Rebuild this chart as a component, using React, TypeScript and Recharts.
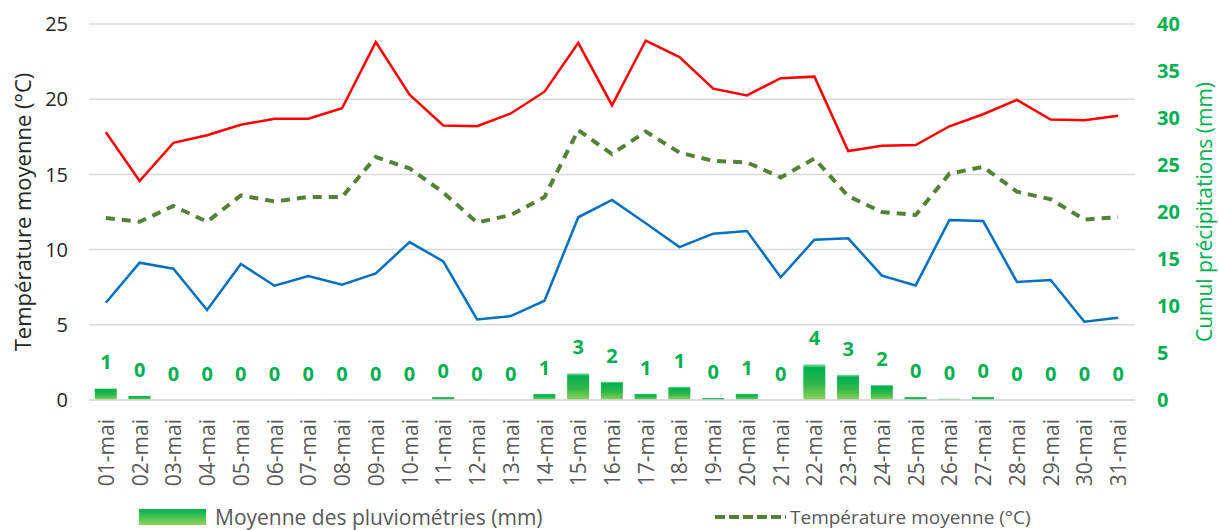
import React from 'react';
import { ComposedChart, Bar, Line, XAxis, YAxis, CartesianGrid, LabelList } from 'recharts';

const days = [
  '01-mai', '02-mai', '03-mai', '04-mai', '05-mai', '06-mai', '07-mai', '08-mai', '09-mai', '10-mai',
  '11-mai', '12-mai', '13-mai', '14-mai', '15-mai', '16-mai', '17-mai', '18-mai', '19-mai', '20-mai',
  '21-mai', '22-mai', '23-mai', '24-mai', '25-mai', '26-mai', '27-mai', '28-mai', '29-mai', '30-mai', '31-mai',
];

const rain = [
  1.24, 0.43, 0, 0, 0, 0, 0.05, 0.05, 0, 0,
  0.3, 0.05, 0, 0.64, 2.84, 1.95, 0.64, 1.4, 0.2, 0.64,
  0, 3.8, 2.7, 1.6, 0.3, 0.15, 0.3, 0, 0, 0, 0,
];

const tMax = [
  17.8, 14.56, 17.1, 17.6, 18.3, 18.7, 18.7, 19.4, 23.8, 20.3,
  18.25, 18.2, 19.05, 20.5, 23.75, 19.6, 23.9, 22.8, 20.7, 20.25,
  21.4, 21.5, 16.55, 16.9, 16.95, 18.2, 19.0, 19.95, 18.65, 18.6, 18.9,
];

const tMean = [
  12.1, 11.85, 12.9, 11.85, 13.6, 13.2, 13.5, 13.5, 16.15, 15.4,
  13.8, 11.8, 12.3, 13.5, 17.95, 16.35, 17.85, 16.45, 15.9, 15.8,
  14.8, 16.05, 13.55, 12.5, 12.3, 15.05, 15.5, 13.85, 13.35, 12.0, 12.15,
];

const tMin = [
  6.47, 9.13, 8.73, 5.98, 9.04, 7.6, 8.24, 7.67, 8.42, 10.5,
  9.22, 5.36, 5.58, 6.6, 12.15, 13.3, 11.75, 10.17, 11.06, 11.24,
  8.16, 10.66, 10.75, 8.27, 7.62, 11.97, 11.9, 7.85, 7.98, 5.2, 5.47,
];

const leftTicks = [0, 5, 10, 15, 20, 25];
const rightTicks = [0, 5, 10, 15, 20, 25, 30, 35, 40];

const data = days.map((d, i) => ({
  day: d,
  rain: rain[i],
  tMax: tMax[i],
  tMean: tMean[i],
  tMin: tMin[i],
}));

const FONT = '"Open Sans", sans-serif';
const GREEN = '#00B050';

const XTick = (props: any) => {
  const { x, y, payload } = props;
  const ty = y + 11;
  return (
    <text
      x={x}
      y={ty}
      transform={`rotate(-90 ${x} ${ty})`}
      textAnchor="end"
      dominantBaseline="central"
      fill="#595959"
      fontSize={21}
      fontFamily={FONT}
    >
      {payload.value}
    </text>
  );
};

const RainLabel = (props: any) => {
  const { x, y, value } = props;
  return (
    <text
      x={x}
      y={y - 19}
      textAnchor="middle"
      fill={GREEN}
      fontSize={20}
      fontWeight="bold"
      fontFamily={FONT}
    >
      {Math.round(value)}
    </text>
  );
};

export default function App() {
  return (
    <div style={{ position: 'absolute', left: 0, top: 0, width: 1219, height: 530, background: '#fff', overflow: 'hidden' }}>
      <ComposedChart
        width={1219}
        height={530}
        data={data}
        margin={{ top: 24, right: 0, left: 0, bottom: 0 }}
        barCategoryGap="17%"
      >
        <defs>
          <linearGradient id="rainGrad" x1="0" y1="0" x2="0" y2="1">
            <stop offset="0%" stopColor="#9BE3AE" />
            <stop offset="10%" stopColor="#00B050" />
            <stop offset="55%" stopColor="#2DB84A" />
            <stop offset="100%" stopColor="#8DD35A" />
          </linearGradient>
        </defs>
        <CartesianGrid yAxisId="left" vertical={false} stroke="#D9D9D9" strokeWidth={1.5} />
        <XAxis
          dataKey="day"
          height={130}
          interval={0}
          tick={<XTick />}
          tickLine={false}
          axisLine={{ stroke: '#D9D9D9', strokeWidth: 1.5 }}
        />
        <YAxis
          yAxisId="left"
          orientation="left"
          width={89}
          domain={[0, 25]}
          ticks={leftTicks}
          tickLine={false}
          axisLine={false}
          tickSize={0}
          tickMargin={21}
          tick={{ fill: '#262626', fontSize: 20, fontFamily: FONT }}
          label={{
            value: 'Température moyenne (°C)',
            angle: -90,
            position: 'insideLeft',
            offset: 23,
            style: { textAnchor: 'middle', fill: '#262626', fontSize: 22, fontFamily: FONT },
          }}
        />
        <YAxis
          yAxisId="right"
          orientation="right"
          width={84}
          domain={[0, 40]}
          ticks={rightTicks}
          tickLine={false}
          axisLine={false}
          tickSize={0}
          tickMargin={22}
          tick={{ fill: GREEN, fontSize: 20, fontWeight: 'bold', fontFamily: FONT }}
          label={{
            value: 'Cumul précipitations (mm)',
            angle: -90,
            position: 'insideRight',
            offset: 14,
            style: { textAnchor: 'middle', fill: GREEN, fontSize: 21, fontFamily: FONT },
          }}
        />
        <Bar yAxisId="right" dataKey="rain" fill="url(#rainGrad)" isAnimationActive={false} />
        <Line
          yAxisId="right"
          dataKey="rain"
          stroke="none"
          dot={false}
          activeDot={false}
          legendType="none"
          isAnimationActive={false}
        >
          <LabelList dataKey="rain" content={<RainLabel />} />
        </Line>
        <Line
          yAxisId="left"
          dataKey="tMax"
          stroke="#FF0000"
          strokeWidth={2.5}
          dot={false}
          isAnimationActive={false}
        />
        <Line
          yAxisId="left"
          dataKey="tMean"
          stroke="#548235"
          strokeWidth={4}
          strokeDasharray="9 7"
          dot={false}
          isAnimationActive={false}
        />
        <Line
          yAxisId="left"
          dataKey="tMin"
          stroke="#0070C0"
          strokeWidth={2.5}
          dot={false}
          isAnimationActive={false}
        />
      </ComposedChart>
      <div style={{ position: 'absolute', left: 139, top: 505, display: 'flex', alignItems: 'center', fontFamily: FONT, fontSize: 21, color: '#595959' }}>
        <div style={{ width: 67, height: 16, background: 'linear-gradient(#00B050, #8DD35A)', marginRight: 9 }} />
        <span style={{ lineHeight: '24px' }}>Moyenne des pluviométries (mm)</span>
      </div>
      <div style={{ position: 'absolute', left: 714, top: 505, display: 'flex', alignItems: 'center', fontFamily: FONT, fontSize: 19, color: '#595959' }}>
        <svg width={73} height={16} style={{ marginRight: 3 }}>
          <line x1={1} y1={8} x2={72} y2={8} stroke="#548235" strokeWidth={4} strokeDasharray="10 4" />
        </svg>
        <span style={{ lineHeight: '24px' }}>Température moyenne (°C)</span>
      </div>
    </div>
  );
}
